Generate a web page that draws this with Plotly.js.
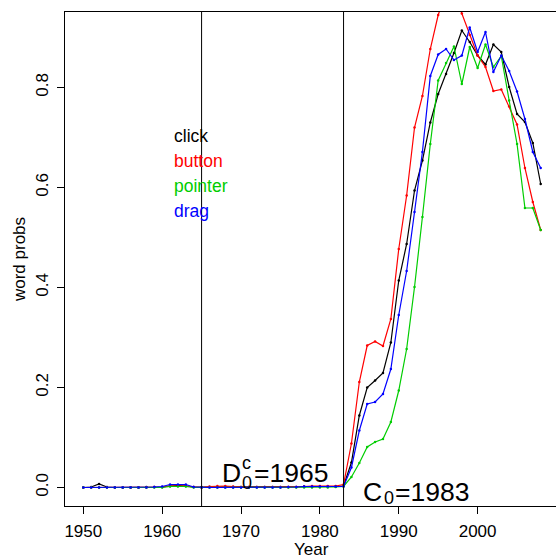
<!DOCTYPE html>
<html>
<head>
<meta charset="utf-8">
<script src="https://cdn.plot.ly/plotly-3.0.1.min.js"></script>
<style>
html,body{margin:0;padding:0;overflow:hidden;background:#fff;}
#chart{width:560px;height:560px;}
</style>
</head>
<body>
<div id="chart"></div>
<script>
// Years 1950..2008
const years = [];
for (let y = 1950; y <= 2008; y++) years.push(y);

// click (black)
const clickVals = [
  0.000, 0.001, 0.007, 0.001, 0.000, 0.000, 0.000, 0.000, 0.001, 0.001,
  0.001, 0.003, 0.004, 0.003, 0.001, 0.001, 0.001, 0.001, 0.001, 0.001,
  0.001, 0.001, 0.001, 0.001, 0.001, 0.001, 0.001, 0.001, 0.002, 0.002,
  0.002, 0.002, 0.002, 0.003,
  0.050, 0.144, 0.200, 0.214, 0.229, 0.290, 0.414, 0.487, 0.594, 0.654,
  0.730, 0.787, 0.827, 0.869, 0.914, 0.891, 0.864, 0.846, 0.886, 0.871,
  0.801, 0.747, 0.731, 0.689, 0.607
];
// button (red)
const buttonVals = [
  0.000, 0.000, 0.000, 0.000, 0.000, 0.000, 0.000, 0.000, 0.000, 0.001,
  0.001, 0.003, 0.003, 0.003, 0.001, 0.000, 0.002, 0.003, 0.003, 0.002,
  0.001, 0.001, 0.001, 0.001, 0.001, 0.001, 0.001, 0.001, 0.002, 0.003,
  0.003, 0.003, 0.003, 0.006,
  0.088, 0.211, 0.284, 0.292, 0.283, 0.337, 0.477, 0.584, 0.720, 0.783,
  0.877, 0.945, 0.990, 0.990, 0.948, 0.905, 0.864, 0.841, 0.793, 0.796,
  0.762, 0.726, 0.639, 0.571, 0.515
];
// pointer (green)
const pointerVals = [
  0.000, 0.000, 0.000, 0.000, 0.000, 0.000, 0.000, 0.000, 0.000, 0.000,
  0.000, 0.002, 0.002, 0.002, 0.000, 0.000, 0.000, 0.000, 0.000, 0.000,
  0.000, 0.000, 0.000, 0.000, 0.000, 0.000, 0.000, 0.000, 0.000, 0.000,
  0.000, 0.000, 0.001, 0.002,
  0.021, 0.049, 0.081, 0.091, 0.097, 0.131, 0.194, 0.277, 0.401, 0.541,
  0.687, 0.814, 0.849, 0.882, 0.807, 0.881, 0.839, 0.886, 0.841, 0.863,
  0.774, 0.687, 0.559, 0.559, 0.515
];
// drag (blue)
const dragVals = [
  0.000, 0.000, 0.000, 0.000, 0.000, 0.000, 0.000, 0.000, 0.000, 0.001,
  0.002, 0.006, 0.006, 0.006, 0.001, 0.000, 0.000, 0.000, 0.000, 0.000,
  0.000, 0.000, 0.000, 0.000, 0.000, 0.000, 0.001, 0.001, 0.002, 0.002,
  0.002, 0.002, 0.002, 0.002,
  0.040, 0.114, 0.167, 0.171, 0.187, 0.237, 0.345, 0.433, 0.551, 0.671,
  0.823, 0.866, 0.877, 0.855, 0.864, 0.920, 0.871, 0.911, 0.831, 0.864,
  0.833, 0.792, 0.737, 0.671, 0.639
];

const seriesNames = ["click", "button", "pointer", "drag"];
const seriesColors = ["#000000", "#ff0000", "#00cd00", "#0000ff"];
const seriesVals = [clickVals, buttonVals, pointerVals, dragVals];

const xTicks = [1950, 1960, 1970, 1980, 1990, 2000, 2010];
const yTicks = [0.0, 0.2, 0.4, 0.6, 0.8];
const changeYears = [1965, 1983];

const FONT = "Liberation Sans, Arial, Helvetica, sans-serif";

const traces = seriesVals.map((v, i) => ({
  x: years, y: v, type: "scatter", mode: "lines+markers",
  name: seriesNames[i],
  line: {color: seriesColors[i], width: 1.2},
  marker: {color: seriesColors[i], size: 2.5},
  cliponaxis: true, showlegend: false
}));

const annotations = [];
// legend-like text
const legendY = [0.704, 0.654, 0.604, 0.554];
seriesNames.forEach((n, i) => {
  annotations.push({x: 1961.4, y: legendY[i], xref: "x", yref: "y", text: n,
    showarrow: false, xanchor: "left", yanchor: "middle", borderpad: 0,
    font: {family: FONT, size: 17.5, color: seriesColors[i]}});
});
const big = {family: FONT, size: 26.5, color: "#000"};
const small = {family: FONT, size: 18, color: "#000"};
function ann(x, y, t, f) {
  annotations.push({x: x, y: y, xref: "x", yref: "y", text: t, showarrow: false,
    xanchor: "left", yanchor: "middle", borderpad: 0, font: f});
}
ann(1967.5, 0.029, "D", big);
ann(1970.0, 0.049, "c", small);
ann(1970.0, 0.009, "0", small);
ann(1971.5, 0.029, "=1965", big);
ann(1985.4, -0.0094, "C", big);
ann(1988.0, -0.021, "0", small);
ann(1989.4, -0.0094, "=1983", big);

// x-axis title placed like R's mtext near the bottom edge
annotations.push({x: 0.498, y: -0.089, xref: "paper", yref: "paper", text: "Year",
  showarrow: false, xanchor: "center", yanchor: "middle", borderpad: 0,
  font: {family: FONT, size: 17, color: "#000"}});

const shapes = changeYears.map(yr => ({
  type: "line", xref: "x", yref: "paper", x0: yr, x1: yr, y0: 0, y1: 1,
  line: {color: "#000", width: 1}
}));

const layout = {
  width: 560, height: 560,
  margin: {l: 65, r: 1, t: 12, b: 54},
  paper_bgcolor: "#fff", plot_bgcolor: "#fff",
  font: {family: FONT, size: 17, color: "#000"},
  showlegend: false,
  xaxis: {
    range: [1947.68, 2010.32], tickvals: xTicks, ticktext: xTicks.map(String),
    ticks: "outside", ticklen: 7, tickwidth: 1, tickcolor: "#000",
    showline: true, mirror: true, linecolor: "#000", linewidth: 1,
    showgrid: false, zeroline: false,
    tickfont: {family: FONT, size: 17},
    ticklabelstandoff: 3
  },
  yaxis: {
    range: [-0.037, 0.951], tickvals: yTicks, ticktext: yTicks.map(v => v.toFixed(1)),
    ticks: "outside", ticklen: 7, tickwidth: 1, tickcolor: "#000",
    tickangle: -90,
    showline: true, mirror: true, linecolor: "#000", linewidth: 1,
    showgrid: false, zeroline: false,
    tickfont: {family: FONT, size: 17},
    ticklabelstandoff: 2,
    title: {text: "word probs", font: {family: FONT, size: 17}, standoff: 3}
  },
  shapes: shapes,
  annotations: annotations
};

Plotly.newPlot("chart", traces, layout, {staticPlot: true, displayModeBar: false});
</script>
</body>
</html>
